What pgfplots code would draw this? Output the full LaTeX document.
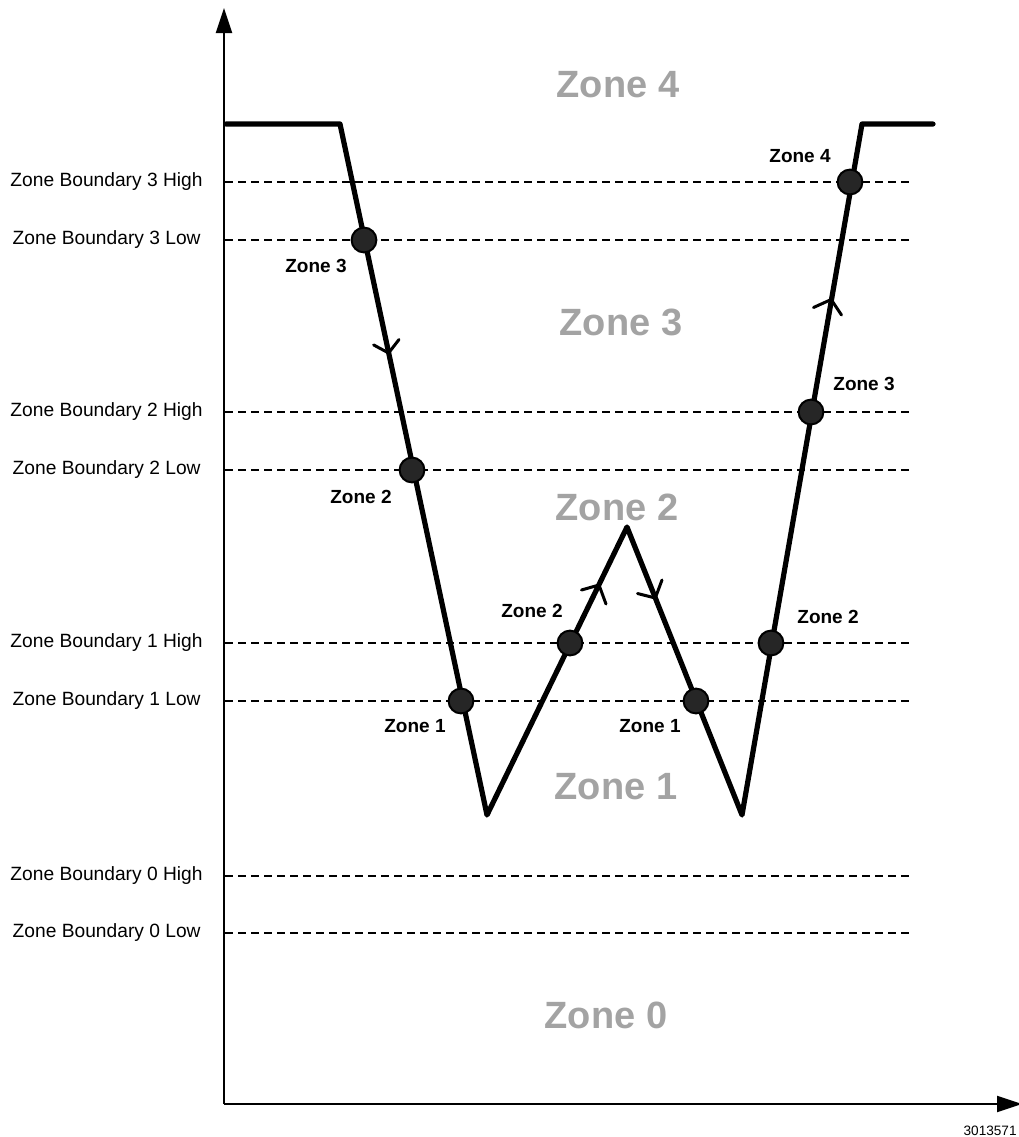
\documentclass[border=0pt]{standalone}
\usepackage{pgfplots}
\pgfplotsset{compat=1.18}
\usetikzlibrary{arrows.meta}
\usepackage{fontspec}
\setmainfont{Liberation Sans}
\definecolor{zonegrey}{HTML}{A3A3A3}
\definecolor{dotfill}{HTML}{262626}
\begin{document}
\begin{tikzpicture}
\begin{axis}[
  name=ax,
  scale only axis, width=509.5pt, height=568.5pt,
  xmin=0, xmax=1019, ymin=0, ymax=1137, y dir=reverse,
  hide axis, clip=false,
]
% axes
\addplot[black, line width=1.1pt, -{Triangle[length=12.5pt,width=8pt]}] coordinates {(224,1104) (224,8)};
\addplot[black, line width=1.1pt, -{Triangle[length=12.5pt,width=8pt]}] coordinates {(224,1104) (1022,1104)};
% boundaries
\foreach \yy in {182,240,412,470,643,701,876,933}{
  \edef\tmp{\noexpand\addplot[black, line width=1pt, dash pattern=on 4pt off 2.5pt] coordinates {(225,\yy) (910,\yy)};}
  \tmp
}
% main path
\addplot[black, line width=2.6pt, line join=round, line cap=round] coordinates {
 (226,124) (340,124) (487,815) (627,527) (742,815) (862,124) (933,124)};
% direction chevrons
\addplot[black, line width=1.5pt, line cap=round] coordinates {(373.6,344.9) (388.6,353) (399,339.5)};
\addplot[black, line width=1.5pt, line cap=round] coordinates {(581.5,590) (599,585) (606,604)};
\addplot[black, line width=1.5pt, line cap=round] coordinates {(637.5,593.5) (655.3,598) (662,580)};
\addplot[black, line width=1.5pt, line cap=round] coordinates {(813.5,307.5) (831.2,299.5) (841.5,315)};
% crossing markers
\addplot[only marks, mark=*, mark size=6.2pt, mark options={fill=dotfill, draw=black, line width=1pt}] coordinates {
 (364,240) (412,470) (461,701) (570,643) (696,701) (771,643) (811,412) (850,182)};
% left labels
\node[anchor=east, inner sep=0pt, font=\fontsize{9.6pt}{11pt}\selectfont] at (axis cs:203,182) {Zone Boundary 3 High};
\node[anchor=east, inner sep=0pt, font=\fontsize{9.6pt}{11pt}\selectfont] at (axis cs:201,240) {Zone Boundary 3 Low};
\node[anchor=east, inner sep=0pt, font=\fontsize{9.6pt}{11pt}\selectfont] at (axis cs:203,412) {Zone Boundary 2 High};
\node[anchor=east, inner sep=0pt, font=\fontsize{9.6pt}{11pt}\selectfont] at (axis cs:201,470) {Zone Boundary 2 Low};
\node[anchor=east, inner sep=0pt, font=\fontsize{9.6pt}{11pt}\selectfont] at (axis cs:203,643) {Zone Boundary 1 High};
\node[anchor=east, inner sep=0pt, font=\fontsize{9.6pt}{11pt}\selectfont] at (axis cs:201,701) {Zone Boundary 1 Low};
\node[anchor=east, inner sep=0pt, font=\fontsize{9.6pt}{11pt}\selectfont] at (axis cs:203,876) {Zone Boundary 0 High};
\node[anchor=east, inner sep=0pt, font=\fontsize{9.6pt}{11pt}\selectfont] at (axis cs:201,933) {Zone Boundary 0 Low};
% big zone labels
\node[text=zonegrey, font=\fontsize{19pt}{22pt}\selectfont\bfseries] at (axis cs:618,85) {Zone 4};
\node[text=zonegrey, font=\fontsize{19pt}{22pt}\selectfont\bfseries] at (axis cs:621,322) {Zone 3};
\node[text=zonegrey, font=\fontsize{19pt}{22pt}\selectfont\bfseries] at (axis cs:617,507) {Zone 2};
\node[text=zonegrey, font=\fontsize{19pt}{22pt}\selectfont\bfseries] at (axis cs:616,787) {Zone 1};
\node[text=zonegrey, font=\fontsize{19pt}{22pt}\selectfont\bfseries] at (axis cs:606,1015) {Zone 0};
% small zone labels
\node[font=\fontsize{9.5pt}{11pt}\selectfont\bfseries] at (axis cs:316,266) {Zone 3};
\node[font=\fontsize{9.5pt}{11pt}\selectfont\bfseries] at (axis cs:361,497) {Zone 2};
\node[font=\fontsize{9.5pt}{11pt}\selectfont\bfseries] at (axis cs:415,726) {Zone 1};
\node[font=\fontsize{9.5pt}{11pt}\selectfont\bfseries] at (axis cs:532,611) {Zone 2};
\node[font=\fontsize{9.5pt}{11pt}\selectfont\bfseries] at (axis cs:650,726) {Zone 1};
\node[font=\fontsize{9.5pt}{11pt}\selectfont\bfseries] at (axis cs:828,617) {Zone 2};
\node[font=\fontsize{9.5pt}{11pt}\selectfont\bfseries] at (axis cs:864,384) {Zone 3};
\node[font=\fontsize{9.5pt}{11pt}\selectfont\bfseries] at (axis cs:800,156) {Zone 4};
% figure number
\node[anchor=east, inner sep=0pt, font=\fontsize{6.8pt}{8pt}\selectfont] at (axis cs:1017,1131) {3013571};
\end{axis}
\pgfresetboundingbox
\path[use as bounding box] (ax.south west) rectangle (ax.north east);
\end{tikzpicture}
\end{document}
